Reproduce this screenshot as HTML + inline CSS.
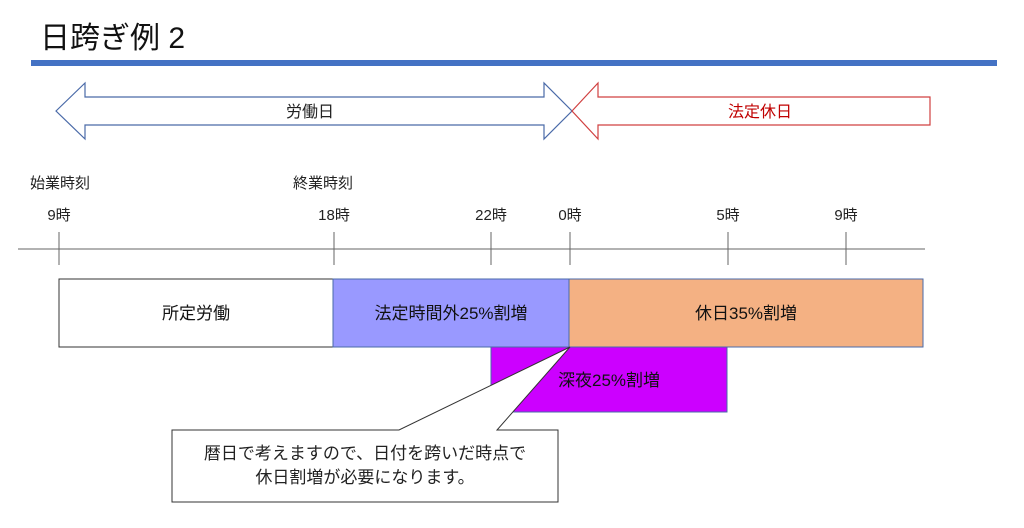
<!DOCTYPE html>
<html><head><meta charset="utf-8"><style>
body{margin:0;width:1024px;height:528px;background:#fff;overflow:hidden;font-family:"Liberation Sans","Noto Sans CJK JP",sans-serif}
</style></head><body>
<svg width="1024" height="528" xmlns="http://www.w3.org/2000/svg" style="position:absolute;left:0;top:0" font-family="Liberation Sans, Noto Sans CJK JP, sans-serif">
<text x="40" y="48" font-size="30" fill="#111">日跨ぎ例 2</text>
<rect x="31" y="60" width="966" height="6" fill="#4472c4"/>
<polygon points="56,111 85,83 85,97 544,97 544,83 572,111 544,139 544,125 85,125 85,139" fill="#fff" stroke="#4a6aa8" stroke-width="1.2"/>
<text x="310" y="117" font-size="16" text-anchor="middle" fill="#222">労働日</text>
<polygon points="572,111 598,83 598,97 930,97 930,125 598,125 598,139" fill="#fff" stroke="#d04040" stroke-width="1.2"/>
<text x="760" y="117" font-size="16" text-anchor="middle" fill="#c00000">法定休日</text>
<g font-size="15" fill="#222">
<text x="30" y="188">始業時刻</text>
<text x="293" y="188">終業時刻</text>
<text x="59" y="220" text-anchor="middle">9時</text>
<text x="334" y="220" text-anchor="middle">18時</text>
<text x="491" y="220" text-anchor="middle">22時</text>
<text x="570" y="220" text-anchor="middle">0時</text>
<text x="728" y="220" text-anchor="middle">5時</text>
<text x="846" y="220" text-anchor="middle">9時</text>
</g>
<g stroke="#666" stroke-width="1">
<line x1="18" y1="249" x2="925" y2="249"/>
<line x1="59" y1="232" x2="59" y2="265"/>
<line x1="334" y1="232" x2="334" y2="265"/>
<line x1="491" y1="232" x2="491" y2="265"/>
<line x1="570" y1="232" x2="570" y2="265"/>
<line x1="728" y1="232" x2="728" y2="265"/>
<line x1="846" y1="232" x2="846" y2="265"/>
</g>
<rect x="59" y="279" width="274" height="68" fill="#fff" stroke="#333"/>
<rect x="333" y="279" width="236" height="68" fill="#9999ff" stroke="#4a6aa8"/>
<rect x="569" y="279" width="354" height="68" fill="#f4b183" stroke="#4a6aa8"/>
<rect x="491" y="347" width="236" height="65" fill="#cc00ff" stroke="#4a6aa8"/>
<g font-size="17" fill="#111" text-anchor="middle">
<text x="196" y="319">所定労働</text>
<text x="451" y="319">法定時間外25%割増</text>
<text x="746" y="319">休日35%割増</text>
<text x="609" y="386">深夜25%割増</text>
</g>
<polygon points="172,430 399,430 570,347 497,430 558,430 558,502 172,502" fill="#fff" stroke="#333" stroke-width="1"/>
<g font-size="17" fill="#222" text-anchor="middle">
<text x="365" y="459">暦日で考えますので、日付を跨いだ時点で</text>
<text x="365" y="483">休日割増が必要になります。</text>
</g>
</svg>
</body></html>
